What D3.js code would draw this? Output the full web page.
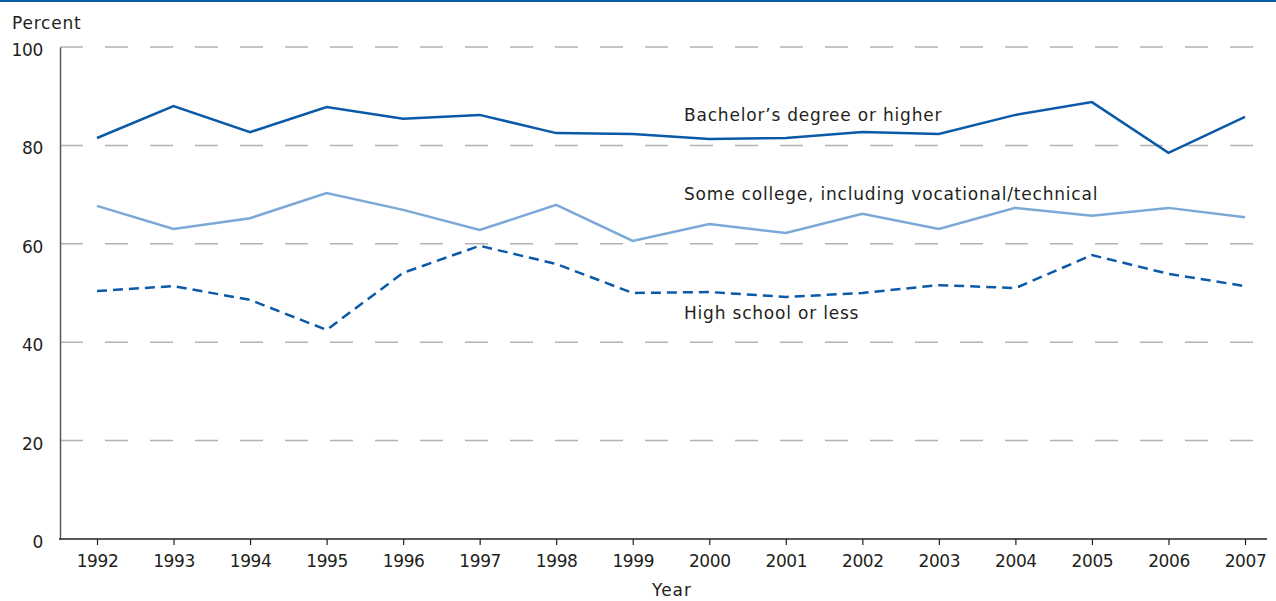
<!DOCTYPE html>
<html><head><meta charset="utf-8">
<script src="https://cdn.jsdelivr.net/npm/d3@7"></script>
<style>body{margin:0;background:#fff}svg{display:block}text{font-family:"DejaVu Sans",sans-serif;fill:#231f20}</style>
</head><body><svg id="c" width="1276" height="601"></svg>
<script>
const years = [1992,1993,1994,1995,1996,1997,1998,1999,2000,2001,2002,2003,2004,2005,2006,2007];
const bachelor = [81.5,88.0,82.7,87.8,85.4,86.2,82.5,82.3,81.3,81.5,82.7,82.3,86.2,88.8,78.5,85.8];
const someCollege = [67.7,63.0,65.2,70.3,66.9,62.8,67.9,60.6,64.0,62.2,66.1,63.0,67.3,65.7,67.3,65.4];
const highSchool = [50.4,51.4,48.6,42.5,54.1,59.6,55.9,50.0,50.2,49.2,50.0,51.6,51.0,57.7,53.9,51.4];
const yTicks = [0,20,40,60,80,100];
const seriesLabels = ["Bachelor\u2019s degree or higher","Some college, including vocational/technical","High school or less"];

const FONT = '"DejaVu Sans",sans-serif';
const svg = d3.select("#c");
const x = d3.scaleLinear().domain([1992,2007]).range([97,1245]);
const y = d3.scaleLinear().domain([0,100]).range([539,47]);

svg.append("rect").attr("x",0).attr("y",0).attr("width",1276).attr("height",2).attr("fill","#0a5aa8");

svg.append("g").selectAll("line").data(yTicks.filter(d=>d>0)).join("line")
  .attr("x1",60).attr("x2",1267).attr("y1",d=>y(d)).attr("y2",d=>y(d))
  .attr("stroke","#b3b3b3").attr("stroke-width",1.5).attr("stroke-dasharray","23,22");

const ya = svg.append("g").attr("transform","translate(60,0)")
  .call(d3.axisLeft(y).tickValues(yTicks).tickSize(0).tickPadding(17));
ya.select(".domain").attr("stroke","#58595b").attr("stroke-width",1.5);
ya.selectAll("text").attr("font-size",17).attr("dy","0.5em").attr("letter-spacing",-0.3)
  .attr("fill","#231f20").style("font-family",FONT);

const xa = svg.append("g").attr("transform","translate(0,539)")
  .call(d3.axisBottom(x).tickValues(years).tickFormat(d3.format("d")).tickSizeInner(6).tickSizeOuter(0).tickPadding(10));
xa.select(".domain").attr("d","M59,0H1267").attr("stroke","#231f20").attr("stroke-width",1.5);
xa.selectAll(".tick line").attr("stroke","#231f20").attr("stroke-width",1.2);
xa.selectAll("text").attr("font-size",17).attr("letter-spacing",-0.4).attr("fill","#231f20").style("font-family",FONT);

const line = d3.line().x((d,i)=>x(years[i])).y(d=>y(d));
svg.append("path").attr("d",line(someCollege)).attr("fill","none").attr("stroke","#7ca8d8").attr("stroke-width",2.5);
svg.append("path").attr("d",line(highSchool)).attr("fill","none").attr("stroke","#0a5aa8").attr("stroke-width",2.5).attr("stroke-dasharray","10,6");
svg.append("path").attr("d",line(bachelor)).attr("fill","none").attr("stroke","#0a5aa8").attr("stroke-width",2.5);

const lbl = [[seriesLabels[0],121],[seriesLabels[1],200],[seriesLabels[2],319]];
svg.append("g").selectAll("text").data(lbl).join("text")
  .attr("x",684).attr("y",d=>d[1]).attr("font-size",17).attr("letter-spacing",0.8).text(d=>d[0]);

svg.append("text").attr("x",12).attr("y",29).attr("font-size",17).attr("letter-spacing",0.8).text("Percent");
svg.append("text").attr("x",672).attr("y",596).attr("text-anchor","middle").attr("font-size",17).attr("letter-spacing",1).text("Year");
</script></body></html>
